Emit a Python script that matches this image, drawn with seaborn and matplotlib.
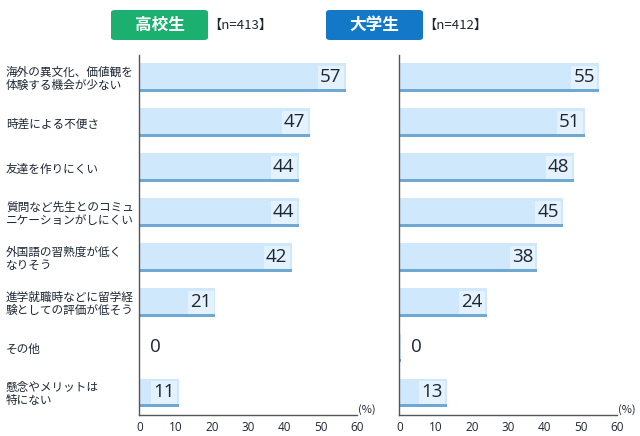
import matplotlib
matplotlib.use("Agg")
import matplotlib.pyplot as plt
from matplotlib.patches import FancyBboxPatch
import seaborn as sns
import pandas as pd
import numpy as np

categories = [
    "海外の異文化、価値観を\n体験する機会が少ない",
    "時差による不便さ",
    "友達を作りにくい",
    "質問など先生とのコミュ\nニケーションがしにくい",
    "外国語の習熟度が低く\nなりそう",
    "進学就職時などに留学経\n験としての評価が低そう",
    "その他",
    "懸念やメリットは\n特にない",
]
high_school = [57, 47, 44, 44, 42, 21, 0, 11]
university = [55, 51, 48, 45, 38, 24, 0.4, 13]
panel_titles = ["高校生", "大学生"]
panel_n = ["【n=413】", "【n=412】"]
x_ticks = [0, 10, 20, 30, 40, 50, 60]

sns.set_style("white")
plt.rcParams["font.family"] = ["Noto Sans CJK JP", "DejaVu Sans"]

BAR = "#cfe8fb"
BAR_EDGE = "#6fa8d3"
PATCH = "#e3f2fd"
TXT = "#1c2733"
AXC = "#555555"

fig = plt.figure(figsize=(6.4, 4.36), dpi=100)
ax1 = fig.add_axes([0.2177, 0.0482, 0.3397, 0.826])
ax2 = fig.add_axes([0.624, 0.0482, 0.3406, 0.826])

for ax, vals, show_labels in [(ax1, high_school, True), (ax2, university, False)]:
    df = pd.DataFrame({"item": categories, "value": vals})
    sns.barplot(data=df, x="value", y="item", orient="h", color=BAR,
                saturation=1, width=0.62, edgecolor="none", ax=ax)
    pos = np.arange(len(vals))
    ax.barh(pos + 0.285, vals, height=0.06, color=BAR_EDGE, linewidth=0)
    ax.set_ylim(len(vals) - 0.5, -0.5)
    for i, v in enumerate(vals):
        lab = f"{v:.0f}"
        if v >= 5:
            ax.annotate(lab, xy=(v, i), xytext=(-3, 0), textcoords="offset points",
                        ha="right", va="center", fontsize=13.5, color=TXT,
                        family=["Open Sans", "DejaVu Sans"],
                        bbox=dict(boxstyle="square,pad=0.12", fc=PATCH, ec="none"))
        else:
            ax.annotate(lab, xy=(v, i), xytext=(7.5, 0), textcoords="offset points",
                        ha="left", va="center", fontsize=13.5, color=TXT,
                        family=["Open Sans", "DejaVu Sans"])
    ax.set_xlim(0, 60)
    ax.set_xticks(x_ticks)
    ax.set_xticklabels([str(t) for t in x_ticks], fontsize=8.5, color=TXT,
                       family=["Open Sans", "DejaVu Sans"])
    ax.set_xlabel("")
    ax.set_ylabel("")
    for s in ["top", "right"]:
        ax.spines[s].set_visible(False)
    for s in ["left", "bottom"]:
        ax.spines[s].set_color(AXC)
        ax.spines[s].set_linewidth(1.0)
    ax.tick_params(axis="x", direction="in", length=4, color=AXC, pad=4)
    ax.tick_params(axis="y", length=0)
    if show_labels:
        ax.tick_params(axis="y", pad=96)
        for lbl in ax.get_yticklabels():
            lbl.set_ha("left")
            lbl.set_fontsize(8.4)
            lbl.set_color(TXT)
            lbl.set_linespacing(1.05)
    else:
        ax.set_yticklabels([])
    ax.text(1.005, 0.0, "(%)", transform=ax.transAxes, ha="left", va="bottom",
            fontsize=8, color=TXT)

# header boxes
W, H = 640, 436
boxes = [(111, 10, 97, 30, "#1bb06f", 240), (326, 10, 97, 30, "#1478c8", 455)]
for (bx, by, bw, bh, col, nx), title, n in zip(boxes, panel_titles, panel_n):
    p = FancyBboxPatch((bx / W, 1 - (by + bh) / H), bw / W, bh / H,
                       boxstyle="round,pad=0,rounding_size=0.006",
                       transform=fig.transFigure, fc=col, ec="none")
    fig.add_artist(p)
    fig.text((bx + bw / 2) / W, 1 - (by + bh / 2) / H, title, ha="center", va="center",
             fontsize=12, fontweight="bold", color="white")
    fig.text(nx / W, 1 - (by + bh / 2) / H, n, ha="center", va="center",
             fontsize=9.5, color=TXT)

fig.savefig("out.png", dpi=100)
